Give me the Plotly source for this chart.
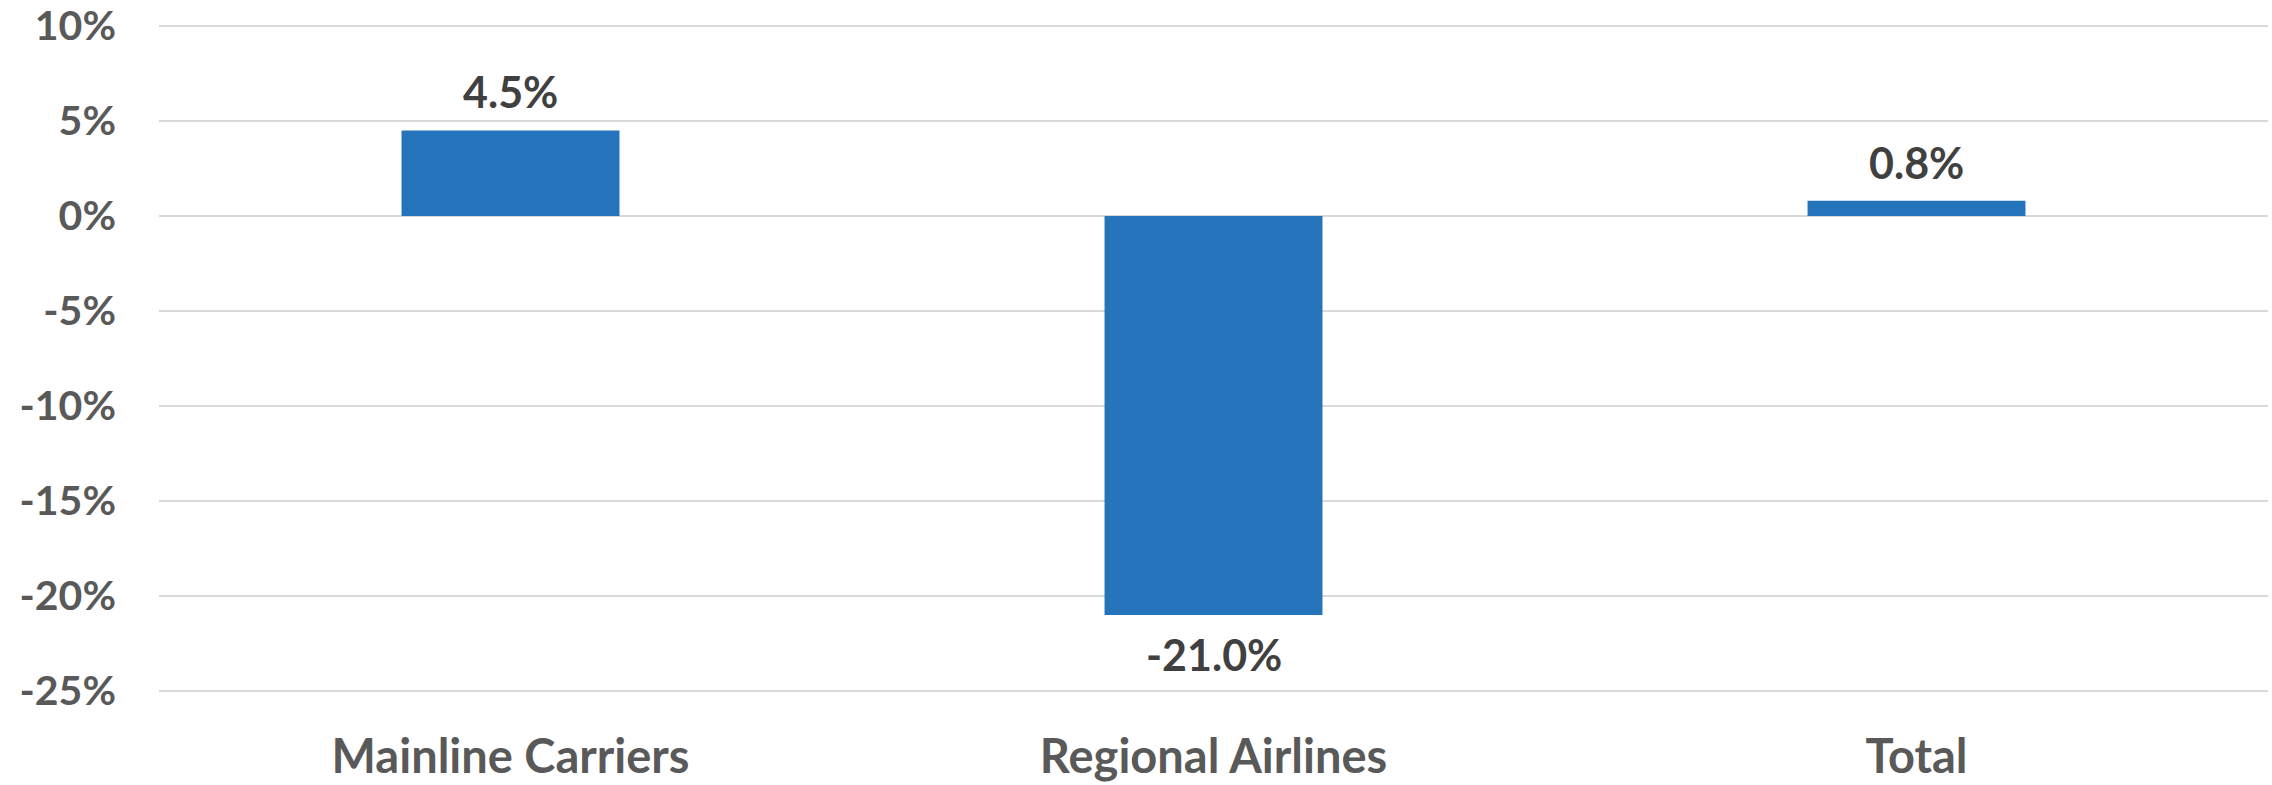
import plotly.graph_objects as go

# Year-over-year change by carrier group
categories = ["Mainline Carriers", "Regional Airlines", "Total"]
changes = [4.5, -21.0, 0.8]
tick_values = [10, 5, 0, -5, -10, -15, -20, -25]
tick_labels = ["10%", "5%", "0%", "-5%", "-10%", "-15%", "-20%", "-25%"]

BAR_COLOR = "#2473BB"
FONT = "Lato"

fig = go.Figure(
    go.Bar(
        x=categories,
        y=changes,
        marker=dict(color=BAR_COLOR, line=dict(width=0)),
        hoverinfo="skip",
    )
)

# Value labels above positive bars and below negative ones
for cat, val in zip(categories, changes):
    fig.add_annotation(
        x=cat,
        y=val,
        text=f"{val:.1f}%",
        showarrow=False,
        yanchor="bottom" if val >= 0 else "top",
        yshift=11 if val >= 0 else -12,
        font=dict(family=FONT, size=43, color="#404040", weight="bold"),
    )

fig.update_layout(
    width=2272,
    height=785,
    margin=dict(l=159, r=4, t=24, b=92, autoexpand=False),
    paper_bgcolor="white",
    plot_bgcolor="white",
    bargap=0.69,
    showlegend=False,
    xaxis=dict(
        automargin=False,
        showgrid=False,
        showline=False,
        zeroline=False,
        ticks="",
        ticklabelstandoff=32,
        tickfont=dict(family=FONT, size=47, color="#595959", weight="bold"),
    ),
    yaxis=dict(
        automargin=False,
        range=[-25.1, 10.1],
        tickvals=tick_values,
        ticktext=tick_labels,
        showgrid=True,
        gridcolor="#D9D9D9",
        gridwidth=2,
        zeroline=True,
        zerolinecolor="#D9D9D9",
        zerolinewidth=2,
        showline=False,
        ticks="",
        ticklabelstandoff=42,
        tickfont=dict(family=FONT, size=41, color="#595959", weight="bold"),
    ),
)

fig.write_html("out.html")
